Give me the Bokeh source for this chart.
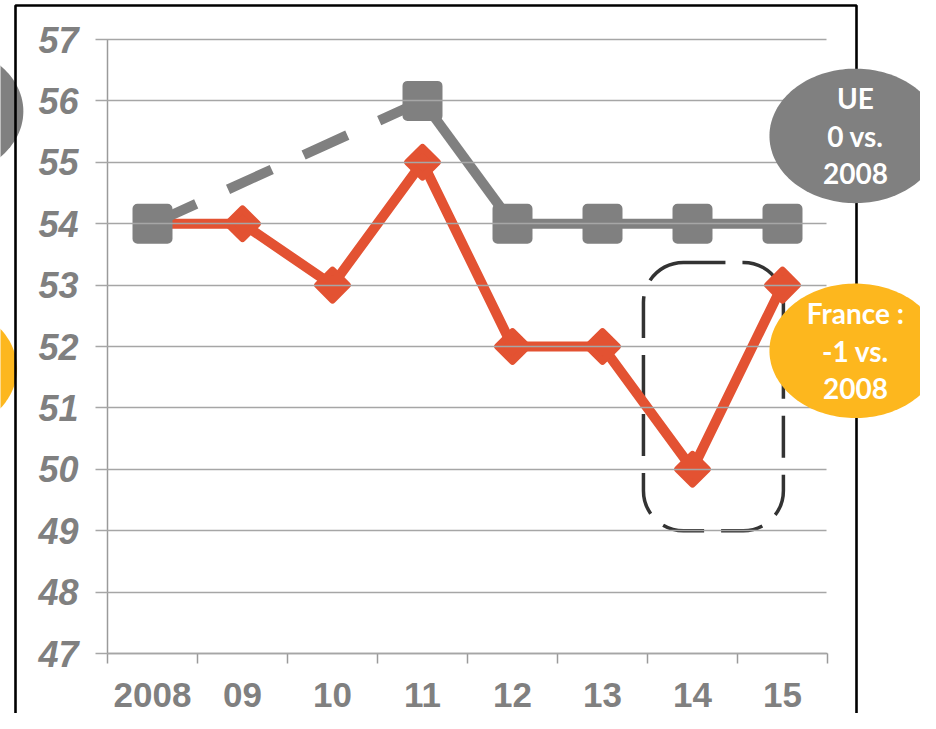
import numpy as np
from bokeh.plotting import figure
from bokeh.models import (Range1d, FixedTicker, BoxAnnotation, PolyAnnotation, Label)
from bokeh.embed import file_html
from bokeh.resources import INLINE

# ---- data ----
years = ["2008", "09", "10", "11", "12", "13", "14", "15"]
france = [54, 54, 53, 55, 52, 52, 50, 53]
ue = [54, None, None, 56, 54, 54, 54, 54]
y_ticks = list(range(47, 58))
highlight_year = "14"
callout_ue = ["UE", "0 vs.", "2008"]
callout_fr = ["France :", "-1 vs.", "2008"]

GRAY = "#808080"
RED = "#E35232"
ORANGE = "#FDB71E"
AXIS = "#9a9a9a"
GRID = "#a6a6a6"

W, H = 920, 713
# plot area geometry (pixels) of the chart inside the canvas
X0, PX_X = 107, 90.0          # left edge of category axis, px per category
Y_TOP, PX_Y = 39, 61.4        # pixel row of the top tick, px per unit

n = len(years)
x = list(range(n))
x_lo = -0.5 - X0 / PX_X
x_hi = -0.5 + (W - X0) / PX_X
y_hi = y_ticks[-1] + Y_TOP / PX_Y
y_lo = y_ticks[-1] - (H - Y_TOP) / PX_Y

p = figure(width=W, height=H,
           x_range=Range1d(x_lo, x_hi), y_range=Range1d(y_lo, y_hi),
           output_backend="svg", toolbar_location=None)
p.min_border = 0
p.min_border_left = 0
p.min_border_right = 0
p.min_border_top = 0
p.min_border_bottom = 0
p.outline_line_color = None
p.background_fill_color = "white"
p.border_fill_color = "white"
p.xgrid.visible = False
p.ygrid.visible = False

# ---- axes (fixed inside the canvas) ----
yax = p.yaxis[0]
yax.fixed_location = -0.5
yax.bounds = (y_ticks[0], y_ticks[-1])
yax.ticker = FixedTicker(ticks=y_ticks)
yax.major_label_text_font = "Liberation Sans"
yax.major_label_text_font_style = "bold italic"
yax.major_label_text_font_size = "36px"
yax.major_label_text_color = GRAY
yax.major_label_standoff = 17
yax.axis_line_color = AXIS
yax.axis_line_width = 1.5
yax.major_tick_line_color = GRID
yax.major_tick_line_width = 1.5
yax.major_tick_out = 12
yax.major_tick_in = int(n * PX_X) - 1
yax.minor_tick_out = 0
yax.minor_tick_in = 0

xax = p.xaxis[0]
xax.fixed_location = y_ticks[0]
xax.bounds = (-0.5, n - 0.5)
xax.ticker = FixedTicker(ticks=x, minor_ticks=[i - 0.5 for i in range(n + 1)])
xax.major_label_overrides = {i: yr for i, yr in zip(x, years)}
xax.major_label_text_font = "Liberation Sans"
xax.major_label_text_font_style = "bold"
xax.major_label_text_font_size = "35px"
xax.major_label_text_color = GRAY
xax.major_label_standoff = 19
xax.axis_line_color = AXIS
xax.axis_line_width = 1.5
xax.major_tick_out = 0
xax.major_tick_in = 0
xax.minor_tick_out = 10
xax.minor_tick_in = 0
xax.minor_tick_line_color = AXIS
xax.minor_tick_line_width = 1.5

# ---- highlight box around 2014 ----
hi = years.index(highlight_year)
box = BoxAnnotation(left=hi - 0.545, right=hi + 1.01, top=53.37, bottom=49.0,
                    fill_color=None, fill_alpha=0, line_color="#333333",
                    line_alpha=1, line_width=3.5,
                    line_dash="42 17", border_radius=40, level="underlay")
p.add_layout(box)

# ---- France series ----
p.line(x, france, line_color=RED, line_width=10, line_join="round")
p.scatter(x, france, marker="square", angle=np.pi / 4, size=21,
          fill_color=RED, line_color=RED, line_width=7, line_join="round")

# ---- UE series: dashed across missing years, solid elsewhere ----
ue_idx = [i for i, v in enumerate(ue) if v is not None]
for a, b in zip(ue_idx[:-1], ue_idx[1:]):
    if b - a > 1:
        p.line([a, b], [ue[a], ue[b]], line_color=GRAY, line_width=10,
               line_dash="48 35")
    else:
        p.line([a, b], [ue[a], ue[b]], line_color=GRAY, line_width=10)
p.scatter(ue_idx, [ue[i] for i in ue_idx], marker="square", size=30,
          fill_color=GRAY, line_color=GRAY, line_width=10, line_join="round")


# ---- callouts ----
def ellipse(cx, cy, rx, ry, color):
    t = np.linspace(0, 2 * np.pi, 180)
    return PolyAnnotation(xs=list(cx + rx * np.cos(t)), ys=list(cy + ry * np.sin(t)),
                          xs_units="data", ys_units="data",
                          fill_color=color, fill_alpha=1, line_color=None)


RX, RY = 0.955, 1.095
p.add_layout(ellipse(-2.39, 55.83, RX, RY, GRAY))
p.add_layout(ellipse(-2.46, 51.64, RX, RY, ORANGE))

frame = BoxAnnotation(left=15, right=856, top=5, bottom=H + 20,
                      left_units="canvas", right_units="canvas",
                      top_units="canvas", bottom_units="canvas",
                      fill_color=None, fill_alpha=0, line_color="black",
                      line_alpha=1, line_width=2.6)
p.add_layout(frame)

STEP = 0.62
for cx, cy, color, lines in [(7.81, 55.43, GRAY, callout_ue),
                             (7.81, 51.93, ORANGE, callout_fr)]:
    p.add_layout(ellipse(cx, cy, RX, RY, color))
    for k, t in enumerate(lines):
        p.add_layout(Label(x=cx, y=cy + (1 - k) * STEP, text=t,
                           x_units="data", y_units="data",
                           text_align="center", text_baseline="middle",
                           text_color="white", text_font="Lato",
                           text_font_style="bold", text_font_size="28px"))

open("out.html", "w").write(file_html(p, INLINE))
